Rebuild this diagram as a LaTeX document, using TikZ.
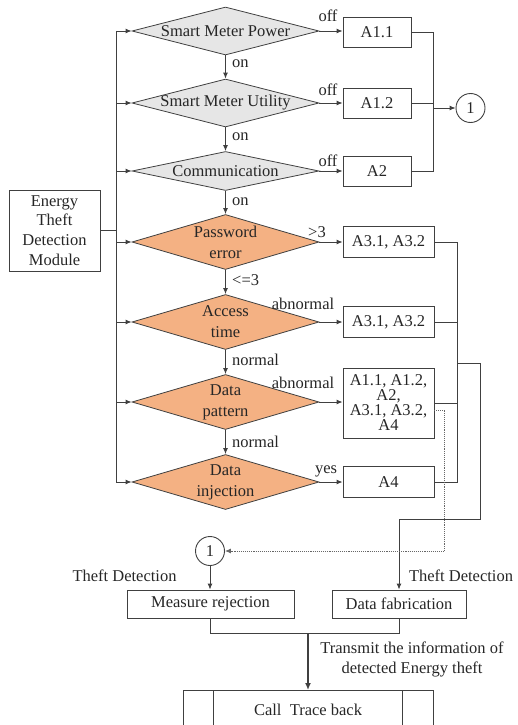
\documentclass[tikz,border=0pt]{standalone}
\usepackage{fontspec}
\setmainfont{Liberation Serif}
\usetikzlibrary{shapes.geometric,arrows.meta,calc}
\definecolor{lineC}{HTML}{404040}
\definecolor{grayD}{HTML}{E6E6E6}
\definecolor{orangeD}{HTML}{F4B183}
\definecolor{txtC}{HTML}{262626}
\begin{document}
\begin{tikzpicture}[x=1pt,y=-1pt,
  font=\fontsize{16.5}{19}\selectfont, text=txtC,
  line/.style={draw=lineC, line width=0.9pt},
  arr/.style={line, -{Latex[length=6pt,width=5pt]}},
  dotline/.style={draw=lineC!80, line width=0.9pt, densely dotted},
  dcell/.style={diamond, draw=lineC, line width=0.8pt, inner sep=0pt, minimum width=187pt},
  gdia/.style={dcell, fill=grayD, minimum height=48pt},
  odia/.style={dcell, fill=orangeD, minimum height=55pt},
  abox/.style={rectangle, draw=lineC, line width=0.9pt, inner sep=0pt, align=center},
  conn/.style={circle, draw=lineC, line width=0.9pt, minimum size=29pt, inner sep=0pt},
  elbl/.style={inner sep=0pt},
  twoline/.style={align=center, font=\fontsize{16.5}{21}\selectfont},
]
\useasboundingbox (0,0) rectangle (518,725);
\clip (0,0) rectangle (518,725);

% module box and left distribution bus
\node[abox, minimum width=91pt, minimum height=81pt,
      font=\fontsize{16.5}{19.7}\selectfont] (etd) at (54.5,230.5) {Energy\\Theft\\Detection\\Module};
\coordinate (busT) at (116,31);
\coordinate (busB) at (116,482);

% decision diamonds
\node[gdia, label={center:Smart Meter Power}] (smp) at (225.5,31) {};
\node[gdia, label={center:Smart Meter Utility}] (smu) at (225.5,103) {};
\node[gdia, minimum height=39pt, label={center:Communication}] (com) at (225.5,171) {};
\node[odia, label={[twoline]center:Password\\error}] (pwd) at (225.5,242) {};
\node[odia, label={[twoline]center:Access\\time}] (acc) at (225.5,322) {};
\node[odia, label={[twoline]center:Data\\pattern}] (pat) at (225.5,402) {};
\node[odia, label={[twoline]center:Data\\injection}] (inj) at (225.5,482) {};

% result boxes
\node[abox, minimum width=68pt, minimum height=30pt] (a11) at (377,32) {A1.1};
\node[abox, minimum width=68pt, minimum height=30pt] (a12) at (377,103) {A1.2};
\node[abox, minimum width=68pt, minimum height=30pt] (a2) at (377,171) {A2};
\node[abox, minimum width=91pt, minimum height=31pt] (a31) at (388.5,242) {A3.1, A3.2};
\node[abox, minimum width=91pt, minimum height=31pt] (a32) at (388.5,322) {A3.1, A3.2};
\node[abox, minimum width=91pt, minimum height=70pt,
      font=\fontsize{16.5}{15}\selectfont] (amul) at (388.5,403) {A1.1, A1.2,\\A2,\\A3.1, A3.2,\\A4};
\node[abox, minimum width=91pt, minimum height=31pt] (a4) at (388.5,482) {A4};

% connector circles
\node[conn] (c1a) at (470.5,108) {1};
\node[conn] (c1b) at (210,551) {1};

% lower boxes
\node[abox, minimum width=167pt, minimum height=28pt] (mrej) at (210.5,604) {Measure rejection};
\node[abox, minimum width=134pt, minimum height=28pt] (dfab) at (399,604) {Data fabrication};
\node[abox, minimum width=250pt, minimum height=38pt, anchor=north] (ctb) at (308,690) {Call\ \ Trace back};
\draw[line] ($(ctb.north west)+(31,0)$) -- ($(ctb.south west)+(31,0)$);
\draw[line] ($(ctb.north east)+(-31,0)$) -- ($(ctb.south east)+(-31,0)$);

% left bus and feeds into each diamond
\draw[line] (busT) -- (busB);
\draw[line] (etd.east) -- (etd.east -| busT);
\foreach \d in {smp,smu,com,pwd,acc,pat,inj}
  \draw[arr] (\d.west -| busT) -- (\d.west);

% main chain downwards
\draw[arr] (smp.south) -- (smu.north);
\draw[arr] (smu.south) -- (com.north);
\draw[arr] (com.south) -- (pwd.north);
\draw[arr] (pwd.south) -- (acc.north);
\draw[arr] (acc.south) -- (pat.north);
\draw[arr] (pat.south) -- (inj.north);
\node[elbl, anchor=west] (lon1) at (232,64) {on};
\node[elbl, anchor=west] (lon2) at (232,137) {on};
\node[elbl, anchor=west] (lon3) at (232,202) {on};
\node[elbl, anchor=west] (lle) at (232,280) {<=3};
\node[elbl, anchor=west] (lnor1) at (232,360) {normal};
\node[elbl, anchor=west] (lnor2) at (232,442) {normal};

% branches to the result boxes
\draw[arr] (smp.east) -- (smp.east -| a11.west);
\draw[arr] (smu.east) -- (smu.east -| a12.west);
\draw[arr] (com.east) -- (com.east -| a2.west);
\draw[arr] (pwd.east) -- (pwd.east -| a31.west);
\draw[arr] (acc.east) -- (acc.east -| a32.west);
\draw[arr] (pat.east) -- (pat.east -| amul.west);
\draw[arr] (inj.east) -- (inj.east -| a4.west);
\node[elbl] (loff1) at (328,16) {off};
\node[elbl] (loff2) at (328,90) {off};
\node[elbl] (loff3) at (328,161) {off};
\node[elbl] (lgt) at (317,232) {>3};
\node[elbl] (labn1) at (303,304) {abnormal};
\node[elbl] (labn2) at (303,383) {abnormal};
\node[elbl] (lyes) at (326,471) {yes};

% collector of the status checks
\coordinate (r1) at (433,32);
\draw[line] (a11.east) -- (r1) -- (r1 |- a2.east) -- (a2.east);
\draw[line] (a12.east) -- (a12.east -| r1);
\draw[arr] (r1 |- c1a.west) -- (c1a.west);

% collector of the theft checks
\coordinate (r2) at (457,242);
\draw[line] (a31.east) -- (r2) -- (r2 |- a4.east) -- (a4.east);
\draw[line] (a32.east) -- (a32.east -| r2);
\draw[line] (amul.east) -- (amul.east -| r2);
\coordinate (r2j) at (457,363);
\coordinate (r3t) at (480,363);
\coordinate (r3b) at (480,519);
\draw[arr] (r2j) -- (r3t) -- (r3b) -- (r3b -| dfab.north) -- (dfab.north);

% dotted link from the data pattern result
\coordinate (dtA) at ($(amul.east)+(0,7)$);
\coordinate (dtB) at ($(amul.east)+(10,7)$);
\draw[dotline, -{Latex[length=6pt,width=5pt]}] (dtA) -- (dtB) -- (dtB |- c1b.east) -- (c1b.east);

% lower part
\draw[arr] (c1b.south) -- (c1b.south |- mrej.north);
\node[elbl] (ltd1) at (124.5,576) {Theft Detection};
\node[elbl] (ltd2) at (461,576) {Theft Detection};
\coordinate (jn) at (308,633);
\draw[line] (mrej.south) -- (mrej.south |- jn) -| (dfab.south);
\draw[line, line width=1.6pt, -{Latex[length=7pt,width=6pt]}] (jn) -- (ctb.north);
\node[elbl, align=center, font=\fontsize{16.5}{20}\selectfont] (ltx) at (412,659) {Transmit the information of\\detected Energy theft};
\end{tikzpicture}
\end{document}
